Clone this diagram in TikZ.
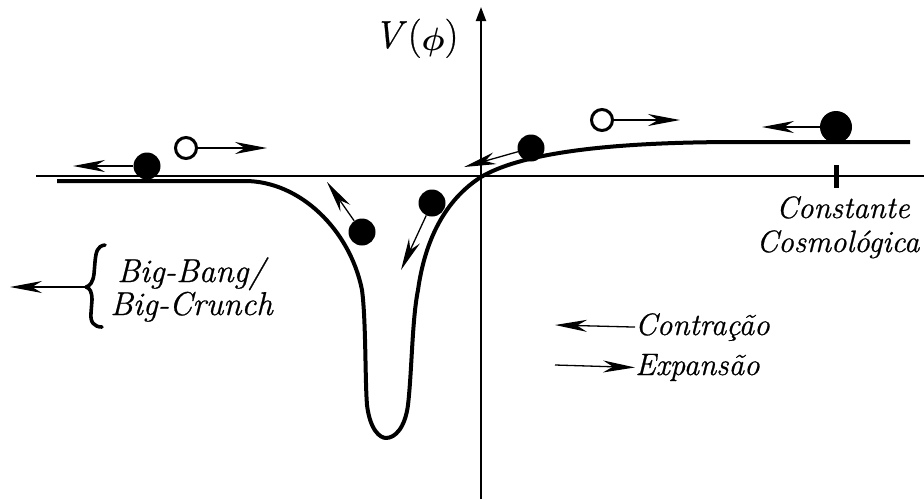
\documentclass[tikz,border=0pt]{standalone}
\usepackage{bm}
\usepackage{fontspec}
\setmainfont{Latin Modern Roman}[ItalicFeatures={FakeBold=0.7},UprightFeatures={FakeBold=0.7}]
\usetikzlibrary{arrows.meta}
\begin{document}
\begin{tikzpicture}[x=1pt,y=-1pt,
  arr/.style={line width=1.3pt,-{Stealth[length=32pt,width=12pt,inset=10pt]}},
  ball/.style={circle,fill=black,inner sep=0pt,minimum size=27pt},
  bigball/.style={circle,fill=black,inner sep=0pt,minimum size=32pt},
  hollow/.style={circle,draw=black,line width=3pt,inner sep=0pt,minimum size=21pt},
  lbl/.style={font=\fontsize{31}{36}\selectfont\itshape,inner sep=0pt},
  blbl/.style={font=\fontsize{33}{40}\selectfont\itshape,inner sep=0pt},
  bracestyle/.style={line width=3.6pt,line cap=round,line join=round},
  pot/.style={line width=4pt,line join=round,line cap=butt}]
\useasboundingbox (0,0) rectangle (924,499);
% axes
\draw[line width=2pt] (36,176) -- (924,176);
\draw[line width=2pt,-{Triangle[length=14pt,width=10pt]}] (481,499) -- (481,7);
\node[font=\fontsize{39}{44}\selectfont,inner sep=0pt,anchor=base] (vlab) at (416,48) {\textit{V}\kern1pt(\raisebox{-2pt}{\scalebox{1.3}{$\bm{\phi}$}})};
% potential curve
\draw[pot] (57,181) -- (245,181)
  .. controls (300,181) and (350,230) .. (362,290)
  .. controls (366,320) and (365,380) .. (367,405)
  .. controls (370,430) and (380,438) .. (386,438)
  .. controls (395,438) and (405,428) .. (408,405)
  .. controls (412,370) and (412,320) .. (418,290)
  .. controls (425,240) and (445,200) .. (481,177)
  .. controls (530,148) and (640,142) .. (740,142)
  -- (910,142);
% tick
\draw[line width=5pt] (836,165) -- (836,188);
% balls
\node[ball] (b1) at (147,166) {};
\node[hollow] (h1) at (186,148) {};
\node[ball] (b3) at (362,232) {};
\node[ball] (b4) at (432,203) {};
\node[ball] (b5) at (531,148) {};
\node[hollow] (h2) at (602,120) {};
\node[bigball] (b7) at (836,127) {};
\coordinate (t1) at (73,166);
\coordinate (t2) at (267,148);
\coordinate (t3) at (327,182);
\coordinate (t4) at (401,270);
\coordinate (t5) at (464,167);
\coordinate (t6) at (680,120);
\coordinate (t7) at (762,127);
\draw[arr] (b1) -- (t1);
\draw[arr] (h1) -- (t2);
\draw[arr] (b3) -- (t3);
\draw[arr] (b4) -- (t4);
\draw[arr] (b5) -- (t5);
\draw[arr] (h2) -- (t6);
\draw[arr] (b7) -- (t7);
% constante cosmologica
\node[lbl,anchor=base] (cc1) at (843,218) {Constante};
\node[lbl,anchor=base] (cc2) at (838,252) {Cosmológica};
% big bang
\node[blbl,anchor=base west] (bb1) at (117,282) {Big-Bang/};
\node[blbl,anchor=base west] (bb2) at (110,315) {Big-Crunch};
\coordinate (brtip) at (86,287);
\draw[bracestyle] (105,245) .. controls (97,246) and (96,252) .. (95,262)
  -- (94,274) .. controls (93,282) and (90,286) .. (brtip)
  .. controls (90,288) and (92,292) .. (92,300)
  -- (91,313) .. controls (90,322) and (94,327) .. (102,327);
\coordinate (bbtip) at (10,287);
\draw[arr] (brtip) -- (bbtip);
% legend
\node[lbl,anchor=base west] (contr) at (635,335) {Contração};
\node[lbl,anchor=base west] (expa) at (635,375) {Expansão};
\coordinate (c1) at (555,325);
\coordinate (e1) at (555,365);
\draw[arr] (contr.west) -- (c1);
\draw[arr] (e1) -- (expa.west);
\end{tikzpicture}
\end{document}
